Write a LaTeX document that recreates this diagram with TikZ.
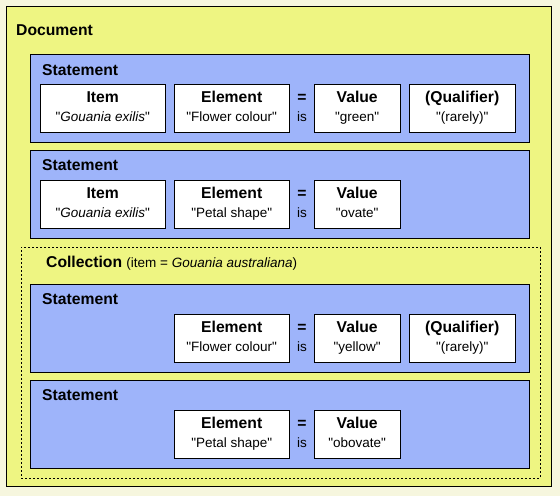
\documentclass[tikz,border=0pt]{standalone}
\usepackage{fontspec}
\setmainfont{Liberation Sans}

\definecolor{paper}{RGB}{246,246,222}
\definecolor{docyellow}{RGB}{238,245,130}
\definecolor{stmtblue}{RGB}{158,180,250}

\newcommand{\titlefont}{\fontsize{15.7}{18}\selectfont\bfseries}
\newcommand{\subfont}{\fontsize{13.5}{16}\selectfont}
% two-line field label: bold name above quoted value
\newcommand{\fieldtext}[2]{{\titlefont\strut #1}\\[1pt]\strut\textquotedbl#2\textquotedbl}

\tikzset{
  docbox/.style={draw, fill=docyellow, anchor=north west, inner sep=0pt},
  stmtbox/.style={draw, fill=stmtblue, anchor=north west, inner sep=0pt,
    minimum width=499pt},
  fieldbox/.style={draw, fill=white, anchor=north west, inner sep=0pt,
    minimum height=48pt, align=center, font=\subfont},
  heading/.style={anchor=west, inner sep=0pt, font=\titlefont},
}

\begin{document}
\begin{tikzpicture}[x=1pt, y=-1pt]
    \useasboundingbox[fill=paper] (0,0) rectangle (560,496);
    % document and collection frames
    \node (doc) at (6,6) [docbox, minimum width=545pt, minimum height=480pt] {};
    \node (coll) at (21,247) [anchor=north west, inner sep=0pt, minimum width=519pt,
        minimum height=231pt, draw, dash pattern=on 2pt off 2pt] {};
    \node (doclab) at (16,30) [heading] {Document};
    \node (colllab) at (46,263) [heading] {Collection {\subfont\mdseries(item = \textit{Gouania australiana})}};

    % statement 1
    \node (s1) at (30,54) [stmtbox, minimum height=88pt] {};
    \node (s1lab) at (42,70) [heading] {Statement};
    \node (item1) at (40,84) [fieldbox, minimum width=125pt] {\fieldtext{Item}{\textit{Gouania exilis}}};
    \node (elem1) at (174,84) [fieldbox, minimum width=115pt] {\fieldtext{Element}{Flower colour}};
    \node (eq1) at (302,98) {\titlefont =};
    \node (is1) at (302,117) {\subfont is};
    \node (val1) at (314,84) [fieldbox, minimum width=86pt] {\fieldtext{Value}{green}};
    \node (qual1) at (409,84) [fieldbox, minimum width=106pt] {\fieldtext{(Qualifier)}{(rarely)}};

    % statement 2
    \node (s2) at (30,150) [stmtbox, minimum height=88pt] {};
    \node (s2lab) at (42,165) [heading] {Statement};
    \node (item2) at (40,180) [fieldbox, minimum width=125pt] {\fieldtext{Item}{\textit{Gouania exilis}}};
    \node (elem2) at (174,180) [fieldbox, minimum width=115pt] {\fieldtext{Element}{Petal shape}};
    \node (eq2) at (302,194) {\titlefont =};
    \node (is2) at (302,213) {\subfont is};
    \node (val2) at (314,180) [fieldbox, minimum width=86pt] {\fieldtext{Value}{ovate}};

    % statement 3
    \node (s3) at (30,284) [stmtbox, minimum height=88pt] {};
    \node (s3lab) at (42,299) [heading] {Statement};
    \node (elem3) at (174,314) [fieldbox, minimum width=115pt] {\fieldtext{Element}{Flower colour}};
    \node (eq3) at (302,328) {\titlefont =};
    \node (is3) at (302,347) {\subfont is};
    \node (val3) at (314,314) [fieldbox, minimum width=86pt] {\fieldtext{Value}{yellow}};
    \node (qual3) at (409,314) [fieldbox, minimum width=106pt] {\fieldtext{(Qualifier)}{(rarely)}};

    % statement 4
    \node (s4) at (30,380) [stmtbox, minimum height=88pt] {};
    \node (s4lab) at (42,395) [heading] {Statement};
    \node (elem4) at (174,410) [fieldbox, minimum width=115pt] {\fieldtext{Element}{Petal shape}};
    \node (eq4) at (302,424) {\titlefont =};
    \node (is4) at (302,443) {\subfont is};
    \node (val4) at (314,410) [fieldbox, minimum width=86pt] {\fieldtext{Value}{obovate}};
\end{tikzpicture}
\end{document}
